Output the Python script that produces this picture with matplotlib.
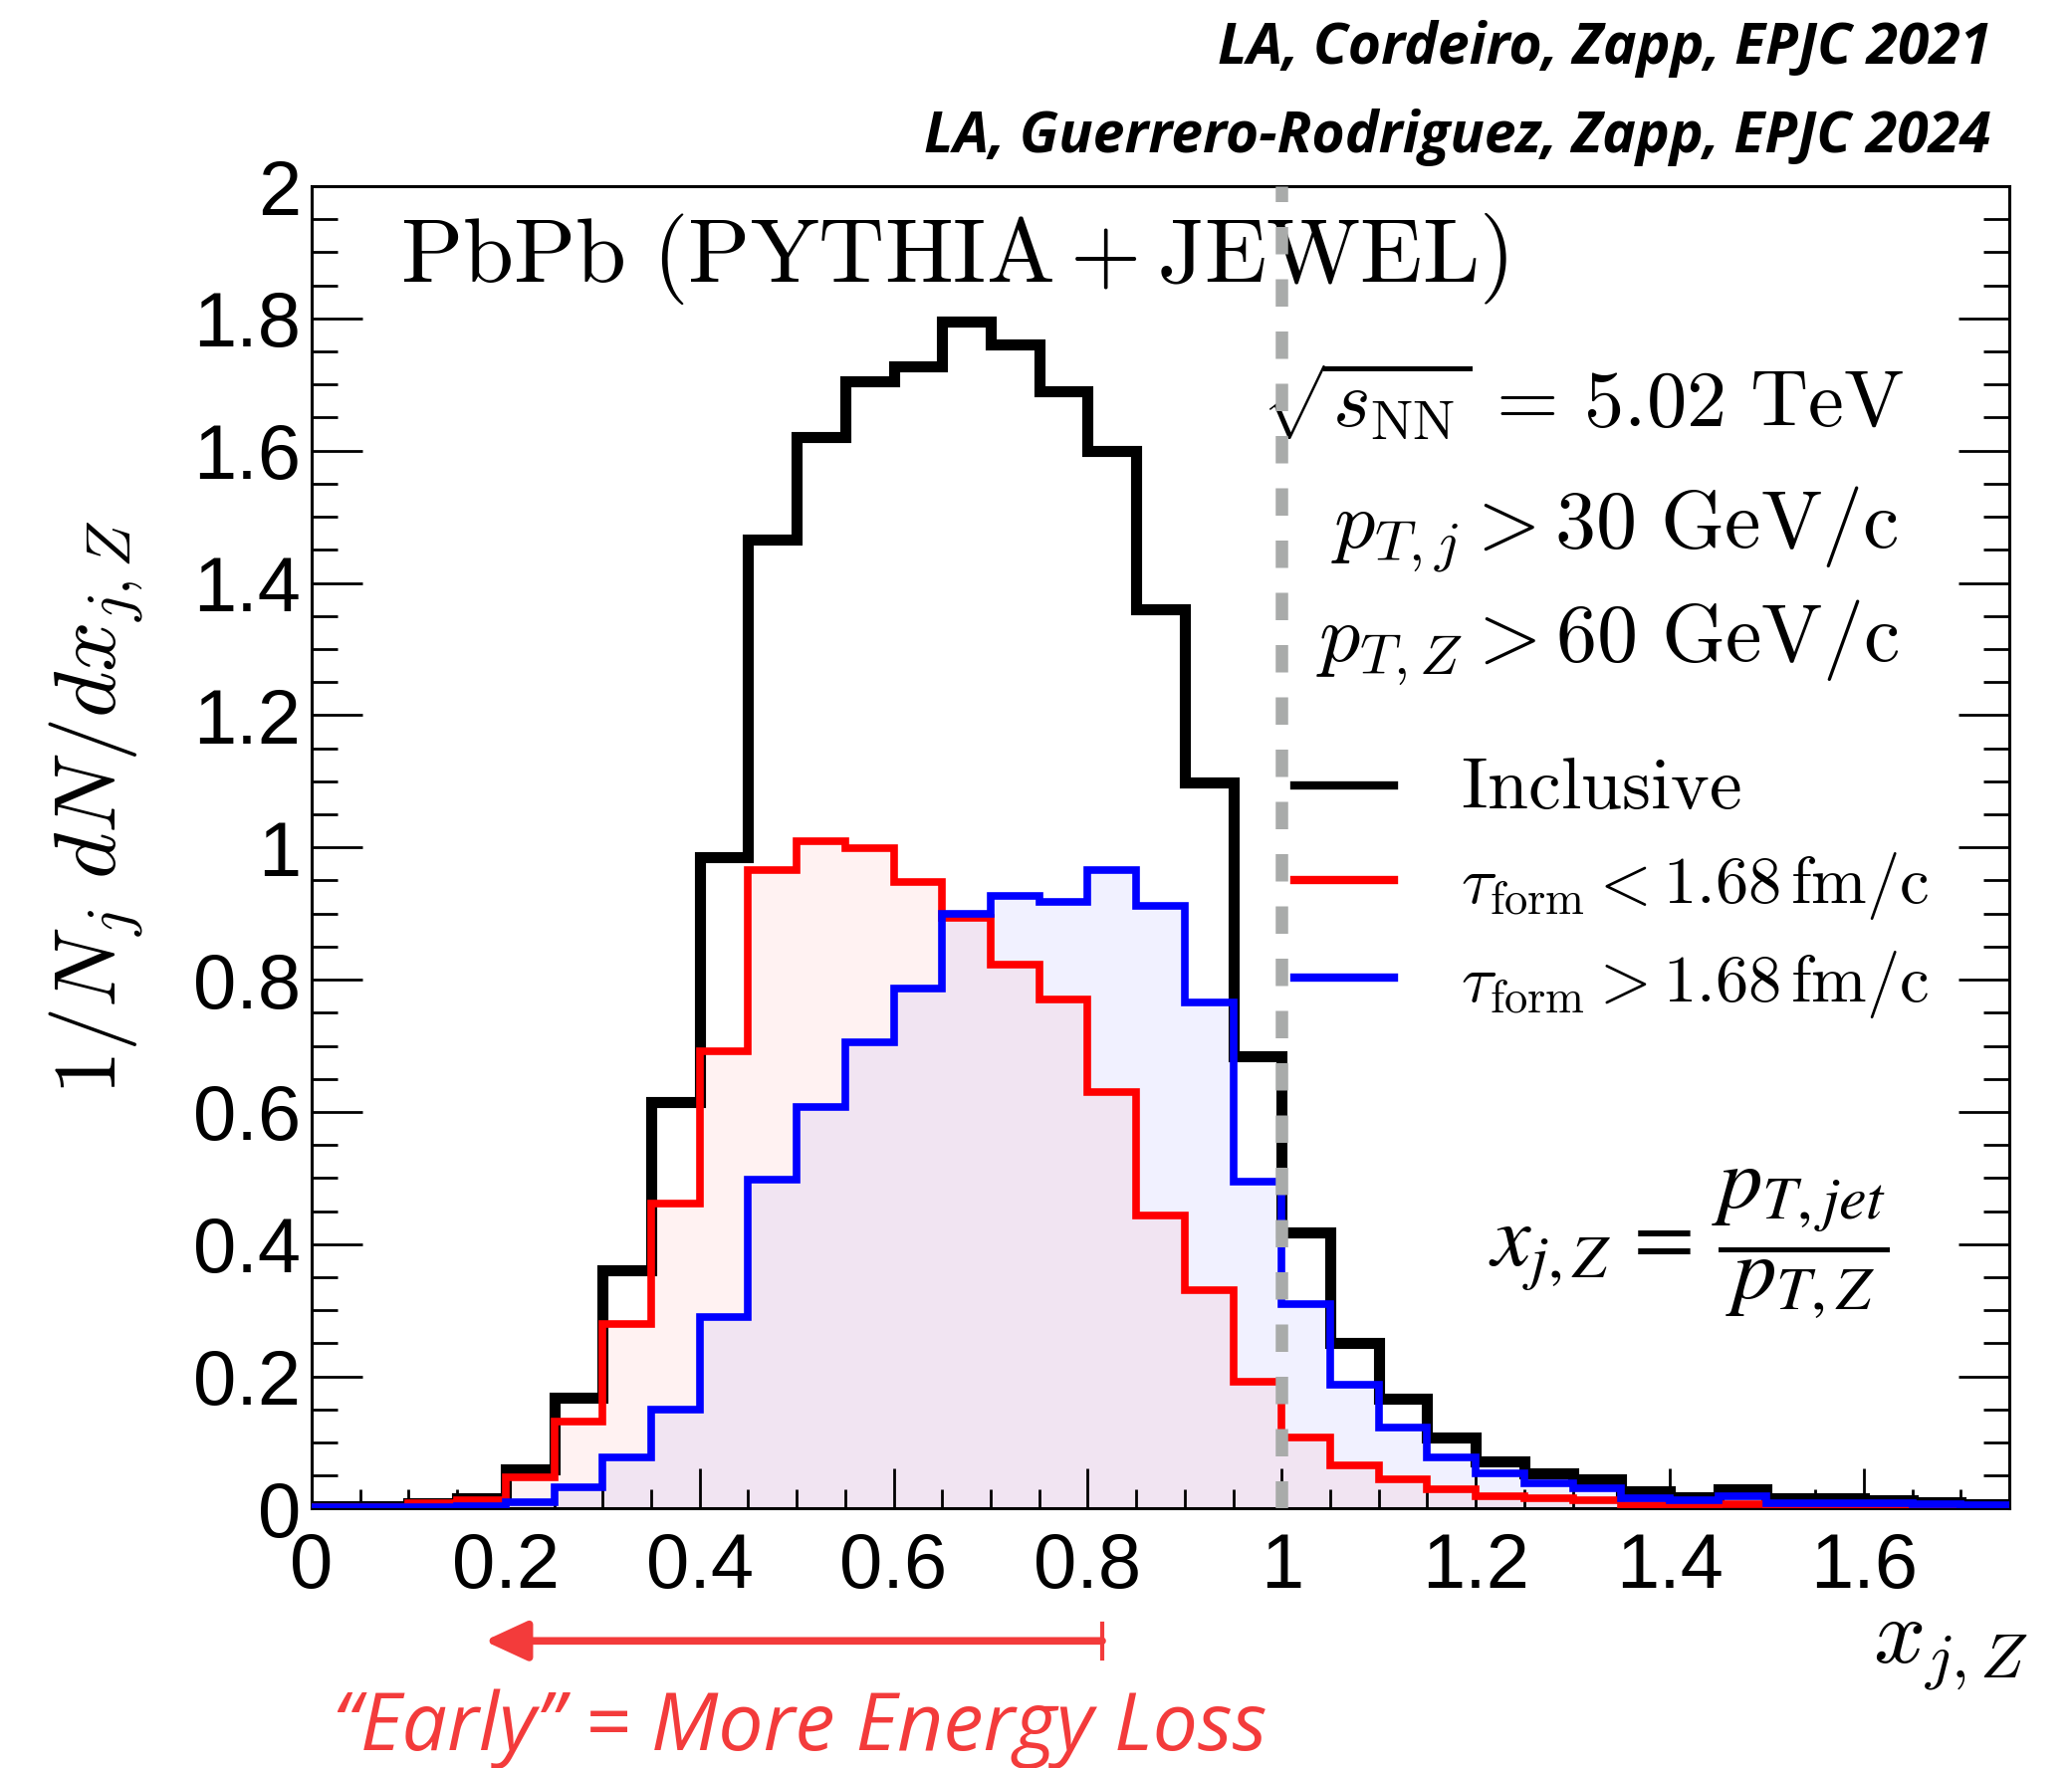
import numpy as np
import matplotlib
matplotlib.use('Agg')
import matplotlib.pyplot as plt
from matplotlib.ticker import MultipleLocator, FormatStrFormatter

plt.rcParams['mathtext.fontset'] = 'cm'
plt.rcParams['font.family'] = ['Liberation Sans', 'DejaVu Sans']

# bin edges of x_jZ (0.05 wide bins from 0 to 1.75)
edges = np.linspace(0.0, 1.75, 36)

# normalised yields
inclusive = [0.004, 0.004, 0.008, 0.016, 0.06, 0.168, 0.361, 0.615, 0.985, 1.465,
             1.62, 1.705, 1.728, 1.795, 1.76, 1.69, 1.60, 1.36, 1.098, 0.684,
             0.417, 0.25, 0.166, 0.108, 0.071, 0.053, 0.045, 0.027, 0.017, 0.029,
             0.015, 0.015, 0.012, 0.009, 0.007]
early = [0.002, 0.002, 0.0075, 0.013, 0.048, 0.131, 0.279, 0.461, 0.692, 0.966,
         1.009, 0.999, 0.947, 0.893, 0.822, 0.77, 0.63, 0.444, 0.33, 0.192,
         0.107, 0.065, 0.045, 0.03, 0.019, 0.015, 0.012, 0.005, 0.003, 0.007,
         0.003, 0.002, 0.002, 0.001, 0.001]
late = [0.002, 0.002, 0.002, 0.004, 0.009, 0.032, 0.078, 0.15, 0.29, 0.497,
        0.607, 0.706, 0.786, 0.9, 0.926, 0.918, 0.966, 0.912, 0.766, 0.495,
        0.309, 0.187, 0.122, 0.078, 0.053, 0.038, 0.031, 0.015, 0.012, 0.019,
        0.008, 0.008, 0.008, 0.006, 0.005]

labels = [r'$\mathrm{Inclusive}$',
          r'$\tau_{\mathrm{form}} < 1.68\,\mathrm{fm/c}$',
          r'$\tau_{\mathrm{form}} > 1.68\,\mathrm{fm/c}$']

fig = plt.figure(figsize=(20.81, 17.76), dpi=100)
ax = fig.add_axes([0.1504, 0.1467, 0.8193, 0.748])

# light fills first, then the outlines
ax.stairs(early, edges, fill=True, color='red', alpha=0.05, lw=0, zorder=1)
ax.stairs(late, edges, fill=True, color='blue', alpha=0.055, lw=0, zorder=1)
h_inc = ax.stairs(inclusive, edges, color='black', lw=8, zorder=3, label=labels[0])
h_early = ax.stairs(early, edges, color='red', lw=5.5, zorder=4, label=labels[1])
h_late = ax.stairs(late, edges, color='blue', lw=5.5, zorder=5, label=labels[2])

ax.axvline(1.0, color='#a9abaa', lw=9, linestyle=(0, (2.2, 2.0)), zorder=6)

ax.set_xlim(0, 1.75)
ax.set_ylim(0, 2)

# ROOT-like axes
for sp in ax.spines.values():
    sp.set_linewidth(2.2)
ax.xaxis.set_major_locator(MultipleLocator(0.2))
ax.xaxis.set_minor_locator(MultipleLocator(0.05))
ax.yaxis.set_major_locator(MultipleLocator(0.2))
ax.yaxis.set_minor_locator(MultipleLocator(0.05))
ax.xaxis.set_major_formatter(FormatStrFormatter('%g'))
ax.yaxis.set_major_formatter(FormatStrFormatter('%g'))
ax.tick_params(axis='x', which='major', direction='in', length=29, width=2, pad=16, labelsize=56)
ax.tick_params(axis='x', which='minor', direction='in', length=14, width=2)
ax.tick_params(axis='y', which='major', direction='in', length=37, width=2, pad=8,
               labelsize=56, right=True)
ax.tick_params(axis='y', which='minor', direction='in', length=19, width=2, right=True)

ax.set_ylabel(r'$1/N_j\ dN/dx_{j,Z}$', fontsize=64)
ax.yaxis.set_label_coords(-0.098, 0.53)
ax.set_xlabel(r'$x_{j,Z}$', fontsize=66, ha='right')
ax.xaxis.set_label_coords(1.011, -0.074)

# annotations inside the frame
ax.text(0.052, 0.928, r'$\mathrm{PbPb\ (PYTHIA + JEWEL)}$', transform=ax.transAxes,
        fontsize=66, va='baseline', ha='left')
ax.text(0.938, 0.818, r'$\sqrt{s_{\mathrm{NN}}}\,=\,5.02\ \mathrm{TeV}$', transform=ax.transAxes,
        fontsize=58, va='baseline', ha='right')
ax.text(0.935, 0.726, r'$p_{T,j} > 30\ \mathrm{GeV/c}$', transform=ax.transAxes,
        fontsize=59, va='baseline', ha='right')
ax.text(0.935, 0.641, r'$p_{T,Z} > 60\ \mathrm{GeV/c}$', transform=ax.transAxes,
        fontsize=59, va='baseline', ha='right')
ax.text(0.811, 0.20, r'$x_{j,Z}\, =\, \dfrac{p_{T,jet}}{p_{T,Z}}$', transform=ax.transAxes,
        fontsize=64, va='center', ha='center', math_fontfamily='stix')

leg = ax.legend(handles=[h_inc, h_early, h_late], loc='upper left',
                bbox_to_anchor=(0.544, 0.615), frameon=False, fontsize=48,
                handlelength=1.5, handletextpad=1.0, labelspacing=0.4)
leg.get_texts()[0].set_fontsize(53)
for line in leg.get_lines():
    line.set_linewidth(6)

# citations on top
fig.text(0.961, 0.964, 'LA, Cordeiro, Zapp, EPJC 2021', fontsize=41, fontweight='bold',
         fontstyle='italic', family='Open Sans', ha='right', va='baseline')
fig.text(0.961, 0.914, 'LA, Guerrero-Rodriguez, Zapp, EPJC 2024', fontsize=41,
         fontweight='bold', fontstyle='italic', family='Open Sans', ha='right', va='baseline')

# arrow and message below the axis
red_note = '#f33b3b'
ax.annotate('', xy=(0.178, -0.2), xytext=(0.815, -0.2), xycoords='data',
            arrowprops=dict(arrowstyle='-|>,head_length=2.6,head_width=1.2',
                            color=red_note, lw=5.5, shrinkA=0, shrinkB=0),
            annotation_clip=False)
ax.plot([0.815, 0.815], [-0.226, -0.174], color=red_note, lw=3, clip_on=False)
fig.text(0.386, 0.010, '\u201cEarly\u201d = More Energy Loss', fontsize=58, color=red_note,
         fontstyle='italic', family='Open Sans', ha='center', va='baseline')

fig.savefig('out.png', dpi=100)
